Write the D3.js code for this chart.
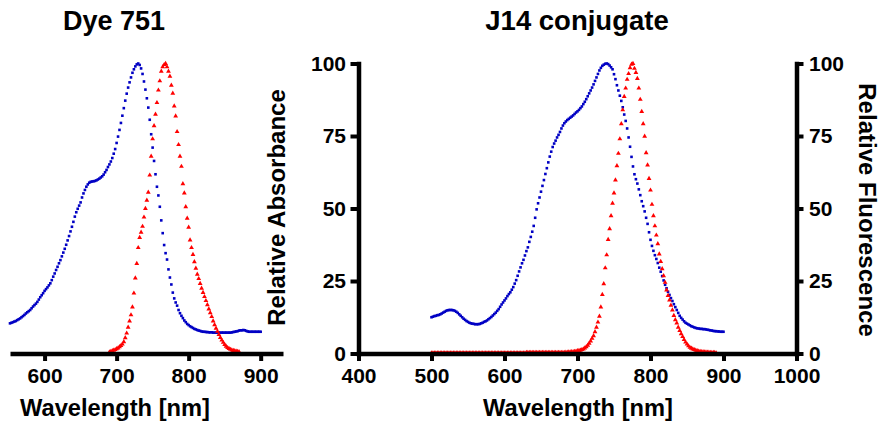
<!DOCTYPE html>
<html>
<head>
<meta charset="utf-8">
<script src="https://cdn.jsdelivr.net/npm/d3@7"></script>
<style>
  body { margin: 0; background: #fff; }
  svg text { font-family: "Liberation Sans", Arial, sans-serif; font-weight: bold; fill: #000; }
</style>
</head>
<body>
<svg id="chart" width="881" height="425"></svg>
<script>
// Spectra sampled every 2 nm, values in percent of maximum
const STEP_NM = 2;

// Dye 751: absorbance (552-900 nm) and fluorescence (690-870 nm)
const dyeAbsStart = 552;
const dyeAbs = [
  10.4,10.6,10.8,11.0,11.2,11.5,11.8,12.1,12.5,12.9,13.3,13.8,14.2,14.6,15.0,15.6,16.2,16.7,17.2,17.8,18.6,19.4,20.1,20.8,21.6,
  22.2,22.8,23.5,24.2,25.3,26.5,27.6,28.8,29.9,31.1,32.2,33.5,34.8,36.1,37.5,39.0,40.5,42.1,43.7,45.4,47.2,48.7,49.9,51.0,52.1,
  53.8,55.2,56.4,57.5,58.3,58.9,59.2,59.3,59.4,59.5,59.7,60.0,60.3,60.7,61.1,61.7,62.5,63.3,64.3,65.2,66.2,67.4,68.9,70.5,72.6,
  74.8,77.1,79.5,82.0,84.6,87.2,89.6,91.7,93.5,95.2,96.8,98.0,99.0,99.7,100.0,99.5,98.3,96.4,93.8,91.0,88.0,84.8,80.6,75.6,71.0,
  66.4,61.8,57.5,54.5,50.6,45.9,41.5,37.4,34.6,32.4,29.0,26.2,23.8,21.0,19.0,17.6,16.5,15.0,13.9,13.0,12.2,11.4,10.8,10.2,9.8,
  9.4,9.1,8.8,8.5,8.3,8.1,7.9,7.8,7.6,7.5,7.5,7.4,7.4,7.3,7.3,7.3,7.2,7.2,7.2,7.2,7.2,7.2,7.2,7.2,7.2,
  7.2,7.2,7.2,7.2,7.3,7.4,7.5,7.6,7.7,7.9,8.0,8.0,8.1,8.0,7.8,7.6,7.5,7.5,7.5,7.5,7.5,7.5,7.5,7.5,7.5
];
const dyeFluoStart = 690;
const dyeFluo = [
  0.5,0.7,0.9,1.1,1.3,1.6,1.9,2.3,2.7,3.2,4.0,5.4,7.0,9.0,11.2,13.3,16.0,20.8,26.0,31.0,36.5,
  40.0,41.8,43.8,47.0,50.0,52.8,55.6,61.5,68.0,74.0,78.5,82.5,86.5,90.8,94.0,97.3,98.8,99.6,100.0,98.8,
  97.3,95.6,92.5,89.7,85.3,81.9,76.5,72.0,68.0,64.5,58.5,55.3,50.6,46.6,43.5,39.1,36.5,34.1,31.6,29.4,
  27.3,25.8,24.1,22.5,21.0,19.6,18.2,16.8,15.3,14.0,12.7,11.2,9.9,8.7,7.6,6.5,5.5,4.6,3.8,3.1,
  2.5,2.0,1.7,1.4,1.2,1.0,0.9,0.8,0.7,0.6
];

// J14 conjugate: absorbance (500-900 nm) and fluorescence (500-890 nm)
const j14AbsStart = 500;
const j14Abs = [
  12.5,12.7,12.9,13.0,13.2,13.3,13.5,13.8,14.1,14.4,14.7,14.9,15.0,15.0,15.0,14.9,14.7,14.4,14.0,13.5,13.0,12.5,12.0,11.6,11.2,
  10.9,10.6,10.4,10.3,10.2,10.1,10.1,10.1,10.2,10.4,10.6,10.9,11.1,11.4,11.8,12.2,12.6,13.1,13.6,14.1,14.7,15.3,16.1,16.9,17.6,
  18.3,19.0,19.8,20.5,21.1,22.0,22.9,24.1,25.3,26.8,28.3,29.7,31.1,32.3,33.8,35.3,36.6,38.5,40.2,42.0,44.0,46.8,49.7,51.8,53.8,
  55.8,57.8,59.8,61.9,63.9,65.9,67.9,69.6,71.2,72.4,73.4,74.5,75.4,76.4,77.6,78.6,79.4,80.0,80.5,80.9,81.3,81.7,82.1,82.6,83.1,
  83.5,84.0,84.6,85.2,86.0,86.8,87.7,88.7,89.7,90.7,91.7,92.8,94.0,95.2,96.4,97.6,98.5,99.2,99.6,99.9,100.0,99.8,99.3,98.7,98.0,
  96.3,94.6,92.5,90.7,88.9,87.1,84.9,82.4,80.2,77.6,74.5,71.3,67.8,64.5,61.8,60.1,58.6,56.6,54.6,52.5,50.8,49.0,46.8,44.7,41.8,
  39.2,37.1,35.4,33.9,32.6,31.2,29.6,28.2,26.7,25.2,23.7,22.5,21.3,20.2,19.1,18.1,17.0,16.0,15.0,14.0,13.0,12.3,11.7,11.1,10.6,
  10.3,10.0,9.7,9.4,9.2,9.0,8.8,8.7,8.6,8.5,8.5,8.4,8.4,8.3,8.2,8.1,8.0,7.9,7.8,7.7,7.7,7.6,7.6,7.5,7.5,
  7.5
];
const j14FluoStart = 500;
const j14Fluo = [
  0.2,0.2,0.2,0.2,0.2,0.2,0.2,0.2,0.2,0.2,0.2,0.2,0.2,0.2,0.2,0.2,0.2,0.2,0.2,0.2,0.2,0.2,0.2,0.2,0.2,
  0.2,0.2,0.2,0.2,0.2,0.2,0.2,0.2,0.2,0.2,0.2,0.2,0.2,0.2,0.2,0.2,0.2,0.2,0.2,0.2,0.2,0.2,0.2,0.2,0.2,
  0.2,0.2,0.2,0.2,0.2,0.2,0.2,0.2,0.2,0.2,0.2,0.2,0.2,0.2,0.2,0.3,0.3,0.3,0.3,0.3,0.3,0.3,0.3,0.3,0.3,
  0.3,0.3,0.3,0.3,0.3,0.3,0.3,0.3,0.3,0.3,0.3,0.3,0.3,0.3,0.3,0.3,
  0.3,0.4,0.4,0.5,0.5,0.6,0.6,0.7,0.8,0.9,
  1.0,1.1,1.3,1.5,1.9,2.3,2.8,3.5,4.3,5.2,6.1,7.5,9.0,10.8,12.8,16.0,20.3,24.0,29.5,34.0,
  39.3,43.0,47.5,51.8,55.3,59.8,64.7,69.0,74.0,79.2,84.0,88.6,91.5,94.5,96.5,98.5,99.7,100.0,98.3,96.9,
  94.8,91.5,87.6,83.4,79.2,74.9,69.2,65.0,60.3,56.3,51.4,47.5,44.0,40.8,37.8,34.3,31.7,29.2,26.8,24.5,
  21.9,20.0,18.4,16.6,15.0,13.1,11.6,10.5,9.0,7.9,6.8,5.8,4.8,3.9,3.2,2.6,2.1,1.8,1.5,1.3,
  1.1,0.9,0.8,0.7,0.6,0.6,0.5,0.5,0.4,0.4,0.3,0.3,0.3,0.3,0.2
];

// Axis ticks and labels
const dyeXTicks = [600, 700, 800, 900];
const j14XTicks = [400, 500, 600, 700, 800, 900, 1000];
const yTicks = [0, 25, 50, 75, 100];
const dyeTitle = "Dye 751";
const j14Title = "J14 conjugate";
const xTitle = "Wavelength [nm]";
const yLeftTitle = "Relative Absorbance";
const yRightTitle = "Relative Fluorescence";

const ABS_COLOR = "#0000c4";
const FLUO_COLOR = "#ff0000";
const FONT = '"Liberation Sans", Arial, sans-serif';

const svg = d3.select("#chart");

// Shared vertical scale (0-100 %)
const y = d3.scaleLinear().domain([0, 100]).range([353.5, 63.5]);
const xDye = d3.scaleLinear().domain([552, 931]).range([10, 283]);
const xJ14 = d3.scaleLinear().domain([400, 1000]).range([358.5, 796.5]);

const toPoints = (start, vals) => vals.map((v, i) => ({ nm: start + i * STEP_NM, v }));
const tri = d3.symbol(d3.symbolTriangle, 10);

function drawSpectra(layer, x, absStart, abs, fluoStart, fluo) {
  layer.selectAll("rect.abs").data(toPoints(absStart, abs)).join("rect")
    .attr("class", "abs")
    .attr("x", d => x(d.nm) - 1.3).attr("y", d => y(d.v) - 1.3)
    .attr("width", 2.6).attr("height", 2.6).attr("fill", ABS_COLOR);
  layer.selectAll("path.fluo").data(toPoints(fluoStart, fluo)).join("path")
    .attr("class", "fluo")
    .attr("transform", d => `translate(${x(d.nm)},${y(d.v)})`)
    .attr("d", tri).attr("fill", FLUO_COLOR);
}

function styleAxis(g) {
  g.attr("font-family", FONT).attr("font-size", 21).attr("font-weight", "bold");
  g.select(".domain").attr("stroke", "#000").attr("stroke-width", 4.5).attr("stroke-linecap", "square");
  g.selectAll(".tick line").attr("stroke", "#000").attr("stroke-width", 4);
  g.selectAll(".tick text").attr("fill", "#000");
}

// Data layers sit beneath the axes
drawSpectra(svg.append("g"), xDye, dyeAbsStart, dyeAbs, dyeFluoStart, dyeFluo);
drawSpectra(svg.append("g"), xJ14, j14AbsStart, j14Abs, j14FluoStart, j14Fluo);

// ----- Dye 751 panel -----
svg.append("g")
  .attr("transform", `translate(0,${y(0)})`)
  .call(d3.axisBottom(xDye).tickValues(dyeXTicks).tickFormat(d3.format("d"))
    .tickSize(7.5).tickSizeOuter(0).tickPadding(7.5))
  .call(styleAxis)
  .call(g => g.select(".domain").attr("stroke-linecap", "butt"));

svg.append("text").attr("x", 114).attr("y", 30).attr("text-anchor", "middle")
  .attr("font-size", 27).text(dyeTitle);
svg.append("text").attr("x", 115).attr("y", 416).attr("text-anchor", "middle")
  .attr("font-size", 23.7).text(xTitle);

// ----- J14 conjugate panel -----
svg.append("g")
  .attr("transform", `translate(0,${y(0)})`)
  .call(d3.axisBottom(xJ14).tickValues(j14XTicks).tickFormat(d3.format("d"))
    .tickSize(7.5).tickSizeOuter(0).tickPadding(7.5))
  .call(styleAxis);

svg.append("g")
  .attr("transform", `translate(${xJ14(400)},0)`)
  .call(d3.axisLeft(y).tickValues(yTicks).tickSize(8).tickSizeOuter(0).tickPadding(4.5))
  .call(styleAxis);

svg.append("g")
  .attr("transform", `translate(${xJ14(1000)},0)`)
  .call(d3.axisRight(y).tickValues(yTicks).tickSize(7).tickSizeOuter(0).tickPadding(5.5))
  .call(styleAxis);

svg.append("text").attr("x", 577).attr("y", 30).attr("text-anchor", "middle")
  .attr("font-size", 27.5).text(j14Title);
svg.append("text").attr("x", 578).attr("y", 416).attr("text-anchor", "middle")
  .attr("font-size", 23.7).text(xTitle);
svg.append("text").attr("transform", "translate(285,207.5) rotate(-90)")
  .attr("text-anchor", "middle").attr("font-size", 24).text(yLeftTitle);
svg.append("text").attr("transform", "translate(859,210) rotate(90)")
  .attr("text-anchor", "middle").attr("font-size", 24).text(yRightTitle);
</script>
</body>
</html>
